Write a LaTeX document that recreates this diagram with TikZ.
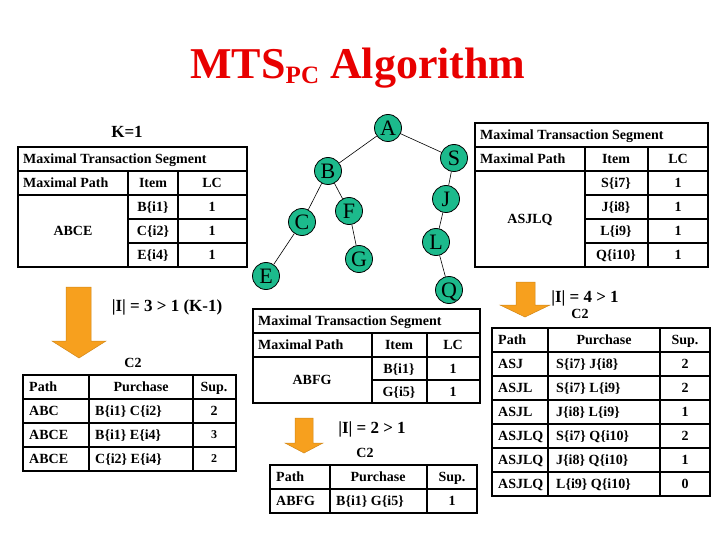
\documentclass[tikz,border=0pt]{standalone}
\usepackage{fontspec}
\setmainfont{Liberation Serif}
\definecolor{nodegreen}{RGB}{28,186,140}
\definecolor{arroworange}{RGB}{247,160,30}
\definecolor{titlered}{RGB}{232,0,0}
\begin{document}
\begin{tikzpicture}[x=1pt,y=-1pt,
  tn/.style={circle, draw=black, line width=0.8pt, fill=nodegreen, minimum size=27pt, inner sep=0pt, text height=14.5pt, text depth=0pt, font=\fontsize{22}{22}\selectfont},
  edge/.style={draw=black, line width=0.6pt},
  cell/.style={inner sep=0pt, text height=9.3pt, text depth=0pt, font=\fontsize{14}{16}\selectfont\bfseries},
  smallcell/.style={inner sep=0pt, text height=8pt, text depth=0pt, font=\fontsize{12}{14}\selectfont\bfseries},
  lbl/.style={inner sep=0pt, text height=11.3pt, text depth=0pt, font=\fontsize{17}{19}\selectfont\bfseries},
  outer/.style={line width=2.5pt},
  inner/.style={line width=1.5pt},
  bigarrow/.style={fill=arroworange, draw=arroworange!85!black, line width=0.5pt}
]
\useasboundingbox (0,0) rectangle (720,540);
\fill[white] (0,0) rectangle (720,540);

% title
\node[anchor=base, text=titlered, inner sep=0pt, font=\fontsize{44}{44}\selectfont\bfseries] (title) at (358,79) {MTS\raisebox{-5pt}{\fontsize{25}{25}\selectfont PC} Algorithm};

% tree
\node[tn] (A) at (388,128) {A};
\node[tn] (B) at (328,171) {B};
\node[tn] (S) at (454,158) {S};
\node[tn] (C) at (302,222) {C};
\node[tn] (F) at (349,211) {F};
\node[tn] (J) at (446,199) {J};
\node[tn] (L) at (436,242) {L};
\node[tn] (G) at (359,259) {G};
\node[tn] (E) at (266,276) {E};
\node[tn] (Q) at (449,290) {Q};
\draw[edge] (A) -- (B);
\draw[edge] (A) -- (S);
\draw[edge] (B) -- (C);
\draw[edge] (B) -- (F);
\draw[edge] (C) -- (E);
\draw[edge] (F) -- (G);
\draw[edge] (S) -- (J);
\draw[edge] (J) -- (L);
\draw[edge] (L) -- (Q);

% table 1 (left top)
\node[lbl] (k1) at (127,132) {K=1};
\draw[inner] (18,171) -- (247,171) (18,195) -- (247,195) (128,219) -- (247,219) (128,243) -- (247,243)
  (128,171) -- (128,267) (178,171) -- (178,267);
\draw[outer] (18,147) rectangle (247,267);
\node[cell, anchor=west] (t1a) at (23,159) {Maximal Transaction Segment};
\node[cell, anchor=west] (t1b) at (23,183) {Maximal Path};
\node[cell] (t1c) at (153,183) {Item};
\node[cell] (t1d) at (212,183) {LC};
\node[cell] (t1e) at (73,231) {ABCE};
\node[cell] (t1f) at (153,207) {B\{i1\}};
\node[cell] (t1g) at (153,231) {C\{i2\}};
\node[cell] (t1h) at (153,255) {E\{i4\}};
\node[cell] (t1i) at (212,207) {1};
\node[cell] (t1j) at (212,231) {1};
\node[cell] (t1k) at (212,255) {1};

% table 2 (right top)
\draw[inner] (475,147) -- (708,147) (475,171) -- (708,171) (585,195) -- (708,195) (585,219) -- (708,219) (585,243) -- (708,243)
  (585,147) -- (585,267) (648,147) -- (648,267);
\draw[outer] (475,123) rectangle (708,267);
\node[cell, anchor=west] (t2a) at (480,135) {Maximal Transaction Segment};
\node[cell, anchor=west] (t2b) at (480,159) {Maximal Path};
\node[cell] (t2c) at (616,159) {Item};
\node[cell] (t2d) at (678,159) {LC};
\node[cell] (t2e) at (530,219) {ASJLQ};
\node[cell] (t2f) at (616,183) {S\{i7\}};
\node[cell] (t2g) at (616,207) {J\{i8\}};
\node[cell] (t2h) at (616,231) {L\{i9\}};
\node[cell] (t2i) at (616,255) {Q\{i10\}};
\node[cell] (t2j) at (678,183) {1};
\node[cell] (t2k) at (678,207) {1};
\node[cell] (t2l) at (678,231) {1};
\node[cell] (t2m) at (678,255) {1};

% table 3 (middle)
\draw[inner] (253,333) -- (480,333) (253,357) -- (480,357) (372,380) -- (480,380)
  (372,333) -- (372,403) (427,333) -- (427,403);
\draw[outer] (253,309) rectangle (480,403);
\node[cell, anchor=west] (t3a) at (258,321) {Maximal Transaction Segment};
\node[cell, anchor=west] (t3b) at (258,345) {Maximal Path};
\node[cell] (t3c) at (399,345) {Item};
\node[cell] (t3d) at (453,345) {LC};
\node[cell] (t3e) at (312,380) {ABFG};
\node[cell] (t3f) at (399,368.5) {B\{i1\}};
\node[cell] (t3g) at (399,391.5) {G\{i5\}};
\node[cell] (t3h) at (453,368.5) {1};
\node[cell] (t3i) at (453,391.5) {1};

% arrows
\draw[bigarrow] (66,287) -- (91,287) -- (91,341) -- (106,341) -- (79,358) -- (52,341) -- (66,341) -- cycle;
\draw[bigarrow] (295,418) -- (313,418) -- (313,443) -- (323,443) -- (304,453) -- (285,443) -- (295,443) -- cycle;
\draw[bigarrow] (516,282) -- (535,282) -- (535,305) -- (550,305) -- (525,317) -- (500,305) -- (516,305) -- cycle;

% labels
\node[lbl] (i3) at (167,306) {|I| = 3 > 1 (K-1)};
\node[cell] (c2a) at (133,363) {C2};
\node[lbl] (i2) at (372,428) {|I| = 2 > 1};
\node[cell] (c2b) at (365,453) {C2};
\node[lbl] (i4) at (585,297) {|I| = 4 > 1};
\node[cell] (c2c) at (580,314) {C2};

% table 4 (left C2)
\draw[inner] (23,399) -- (236,399) (23,423) -- (236,423) (23,447) -- (236,447)
  (89,375) -- (89,471) (193,375) -- (193,471);
\draw[outer] (23,375) rectangle (236,471);
\node[cell, anchor=west] (t4a) at (29,387) {Path};
\node[cell] (t4b) at (141,387) {Purchase};
\node[cell] (t4c) at (214,387) {Sup.};
\node[cell, anchor=west] (t4d) at (29,411) {ABC};
\node[cell, anchor=west] (t4e) at (29,435) {ABCE};
\node[cell, anchor=west] (t4f) at (29,459) {ABCE};
\node[cell, anchor=west] (t4g) at (95,411) {B\{i1\} C\{i2\}};
\node[cell, anchor=west] (t4h) at (95,435) {B\{i1\} E\{i4\}};
\node[cell, anchor=west] (t4i) at (95,459) {C\{i2\} E\{i4\}};
\node[cell] (t4j) at (214,411) {2};
\node[smallcell] (t4k) at (214,434) {3};
\node[smallcell] (t4l) at (214,458) {2};

% table 5 (bottom middle C2)
\draw[inner] (270,489) -- (477,489) (330,465) -- (330,513) (427,465) -- (427,513);
\draw[outer] (270,465) rectangle (477,513);
\node[cell, anchor=west] (t5a) at (276,477) {Path};
\node[cell] (t5b) at (378,477) {Purchase};
\node[cell] (t5c) at (452,477) {Sup.};
\node[cell, anchor=west] (t5d) at (276,501) {ABFG};
\node[cell, anchor=west] (t5e) at (336,501) {B\{i1\} G\{i5\}};
\node[cell] (t5f) at (452,501) {1};

% table 6 (right C2)
\draw[inner] (492,352) -- (710,352) (492,376) -- (710,376) (492,400) -- (710,400) (492,424) -- (710,424) (492,448) -- (710,448) (492,472) -- (710,472)
  (548,328) -- (548,496) (660,328) -- (660,496);
\draw[outer] (492,328) rectangle (710,496);
\node[cell, anchor=west] (t6a) at (498,340) {Path};
\node[cell] (t6b) at (604,340) {Purchase};
\node[cell] (t6c) at (685,340) {Sup.};
\node[cell, anchor=west] (t6d) at (498,364) {ASJ};
\node[cell, anchor=west] (t6e) at (498,388) {ASJL};
\node[cell, anchor=west] (t6f) at (498,412) {ASJL};
\node[cell, anchor=west] (t6g) at (498,436) {ASJLQ};
\node[cell, anchor=west] (t6h) at (498,460) {ASJLQ};
\node[cell, anchor=west] (t6i) at (498,484) {ASJLQ};
\node[cell, anchor=west] (t6j) at (556,364) {S\{i7\} J\{i8\}};
\node[cell, anchor=west] (t6k) at (556,388) {S\{i7\} L\{i9\}};
\node[cell, anchor=west] (t6l) at (556,412) {J\{i8\} L\{i9\}};
\node[cell, anchor=west] (t6m) at (556,436) {S\{i7\} Q\{i10\}};
\node[cell, anchor=west] (t6n) at (556,460) {J\{i8\} Q\{i10\}};
\node[cell, anchor=west] (t6o) at (556,484) {L\{i9\} Q\{i10\}};
\node[cell] (t6p) at (685,364) {2};
\node[cell] (t6q) at (685,388) {2};
\node[cell] (t6r) at (685,412) {1};
\node[cell] (t6s) at (685,436) {2};
\node[cell] (t6t) at (685,460) {1};
\node[cell] (t6u) at (685,484) {0};
\end{tikzpicture}
\end{document}
